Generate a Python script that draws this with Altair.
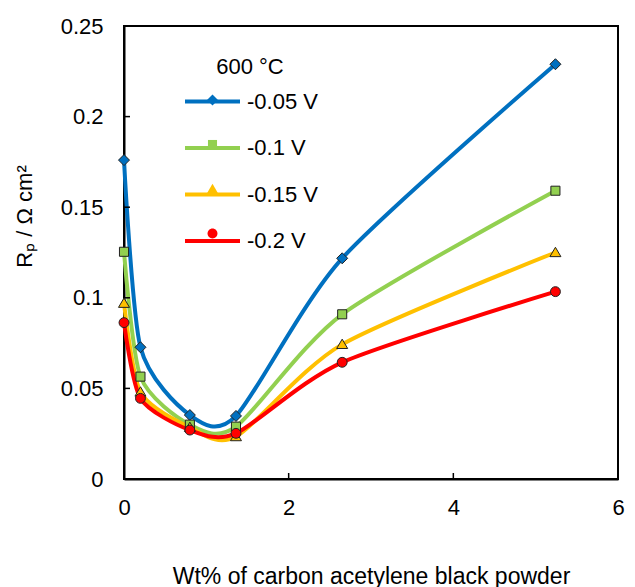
import altair as alt
import pandas as pd

# ---- data ----
wt = [0.0, 0.2, 0.8, 1.36, 2.65, 5.24]
series_names = ["-0.05 V", "-0.1 V", "-0.15 V", "-0.2 V"]
rp_005 = [0.176, 0.0727, 0.0353, 0.0348, 0.1218, 0.2289]
rp_010 = [0.1254, 0.0565, 0.0300, 0.0289, 0.0909, 0.1591]
rp_015 = [0.0970, 0.0480, 0.0285, 0.0234, 0.0743, 0.1250]
rp_020 = [0.0863, 0.0445, 0.0270, 0.0252, 0.0644, 0.1034]
colors = ["#0070C0", "#92D050", "#FFC000", "#FF0000"]
x_ticks = [0, 2, 4, 6]
y_ticks = [0, 0.05, 0.1, 0.15, 0.2, 0.25]

# marker outlines as unit paths (scaled by sqrt(size)/2)
marker_paths = [
    "M0,-0.2L0.2,0L0,0.2L-0.2,0Z",
    "M-0.165,-0.165L0.165,-0.165L0.165,0.165L-0.165,0.165Z",
    "M0,-0.19L0.2,0.15L-0.2,0.15Z",
    "M0.18,0C0.18,0.0994,0.0994,0.18,0,0.18C-0.0994,0.18,-0.18,0.0994,-0.18,0"
    "C-0.18,-0.0994,-0.0994,-0.18,0,-0.18C0.0994,-0.18,0.18,-0.0994,0.18,0Z",
]

rows = []
for name, vals in zip(series_names, [rp_005, rp_010, rp_015, rp_020]):
    for xv, yv in zip(wt, vals):
        rows.append({"wt": xv, "rp": yv, "series": name})
df = pd.DataFrame(rows)

FONT = "Liberation Sans"
SYM = 3025
LX, LY = 59, 31

x_enc = alt.X("wt:Q", scale=alt.Scale(domain=[0, 6], nice=False),
              axis=alt.Axis(values=x_ticks, format="~g", labelFlush=False,
                            title="Wt% of carbon acetylene black powder",
                            grid=False, ticks=False, labelPadding=18, titlePadding=47,
                            labelFontSize=22, titleFontSize=23, titleFontWeight="normal",
                            domainColor="black", domainWidth=2, labelColor="black",
                            titleColor="black"))
y_enc = alt.Y("rp:Q", scale=alt.Scale(domain=[0, 0.25], nice=False),
              axis=alt.Axis(values=y_ticks, format="~g", labelFlush=False,
                            title="Rₚ / Ω cm²",
                            grid=False, ticks=False, labelPadding=21, titlePadding=24,
                            titleY=190,
                            labelFontSize=22, titleFontSize=22, titleFontWeight="normal",
                            domainColor="black", domainWidth=2, labelColor="black",
                            titleColor="black"))

common_legend = dict(orient="none", legendY=LY, symbolSize=SYM, labelFontSize=22,
                     titleFontSize=22, titleFontWeight="normal", titleAnchor="middle",
                     labelOffset=5, rowPadding=5.5, titlePadding=-7, padding=0,
                     labelFont=FONT, titleFont=FONT)

lines = alt.Chart(df).mark_line(interpolate="cardinal", tension=0.25, strokeWidth=4).encode(
    x=x_enc, y=y_enc,
    stroke=alt.Stroke("series:N", scale=alt.Scale(range=colors),
                      legend=alt.Legend(title="600 °C", legendX=LX, symbolType="stroke",
                                        symbolStrokeWidth=4, labelColor="black",
                                        titleColor="black", **common_legend)),
)

# marker-only legend laid exactly over the line legend (its texts are blank)
pt_legend = alt.Legend(title=" ", legendX=LX + 1.5, symbolStrokeWidth=1,
                       symbolStrokeColor="#222", labelExpr="' '",
                       labelColor="transparent", titleColor="transparent",
                       **common_legend)
points = alt.Chart(df).transform_calculate(pseries="datum.series").mark_point(
    filled=True, size=SYM, stroke="#222", strokeWidth=1, opacity=1
).encode(
    x="wt:Q", y="rp:Q",
    fill=alt.Fill("pseries:N", scale=alt.Scale(range=colors), legend=pt_legend),
    shape=alt.Shape("pseries:N", scale=alt.Scale(range=marker_paths), legend=pt_legend),
)

xt = alt.Chart(pd.DataFrame({"wt": x_ticks})).mark_rule(color="black", strokeWidth=1.5).encode(
    x="wt:Q", y=alt.value(453), y2=alt.value(447))
yt = alt.Chart(pd.DataFrame({"rp": y_ticks})).mark_rule(color="black", strokeWidth=1.5).encode(
    y="rp:Q", x=alt.value(0), x2=alt.value(6))

chart = alt.layer(lines, xt, yt, points).resolve_legend(
    stroke="independent", fill="independent", shape="independent"
).properties(
    width=494, height=453,
    autosize=alt.AutoSizeParams(type="none"),
    padding={"left": 124, "top": 26, "right": 17, "bottom": 108},
).configure(font=FONT).configure_view(stroke="black", strokeWidth=2)

chart.save("out.html", embed_options={"renderer": "svg", "actions": False})
